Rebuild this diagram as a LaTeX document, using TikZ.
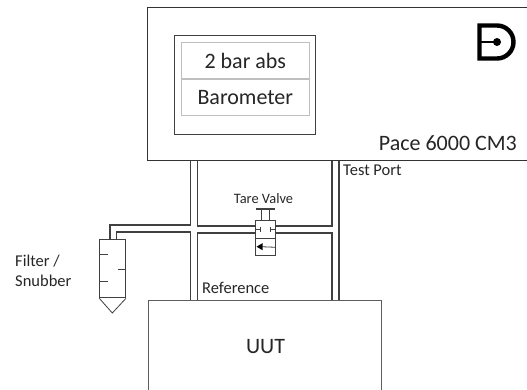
\documentclass[tikz,border=0pt]{standalone}
\usepackage{fontspec}
\setmainfont{Carlito}
\definecolor{txt}{HTML}{262626}
\definecolor{ln}{HTML}{404040}
\definecolor{gr}{HTML}{BFBFBF}
\begin{document}
\begin{tikzpicture}[x=1pt,y=-1pt,
  box/.style={draw=ln,line width=1.1pt,fill=white},
  pipe/.style={draw=ln,line width=1.2pt,line join=miter},
  thin part/.style={draw=ln,line width=0.8pt},
  cell/.style={draw=gr,line width=1pt,fill=white,minimum width=127.5pt,minimum height=36pt,inner sep=0pt,text=txt,font=\fontsize{22}{26}\selectfont},
  lab/.style={text=txt,inner sep=0pt,font=\fontsize{16.5}{20}\selectfont}]
\useasboundingbox (0,0) rectangle (527,389);
% pipes
\draw[pipe] (110,239) -- (110,225) -- (190.5,225) -- (190.5,159);
\draw[pipe] (116.7,239) -- (116.7,232) -- (190.5,232) -- (190.5,300);
\draw[pipe] (197.3,159) -- (197.3,226) -- (332,226) -- (332,159);
\draw[pipe] (197.3,300) -- (197.3,233) -- (332,233) -- (332,300);
\draw[pipe] (339,159) -- (339,300);
% main boxes
\node[box,draw=black!80,anchor=north west,minimum width=390pt,minimum height=153pt,inner sep=0pt] (pace) at (147,7) {};
\node[box,anchor=north west,minimum width=140.5pt,minimum height=98.5pt,inner sep=0pt] (screen) at (174,35) {};
\node[cell] (range) at (245.3,60.5) {2 bar abs};
\node[cell,anchor=north] (baro) at (range.south) {Barometer};
\node[box,draw=ln!85,anchor=north west,minimum width=233pt,minimum height=100pt,inner sep=0pt] (uut) at (148,300) {};
% logo
\draw[black,line width=4.4pt,line join=miter] (497,25.5) -- (479.5,25.5) -- (479.5,58.5) -- (497,58.5) arc[start angle=90,end angle=-90,radius=16.5] ;
\draw[black,line width=2.4pt] (479.5,42) -- (497,42);
\fill[black] (497,42) circle (4pt);
% valve
\node[draw=ln,line width=1pt,fill=white,anchor=north west,minimum width=20.3pt,minimum height=18.3pt,inner sep=0pt] (vtop) at (254.7,220) {};
\node[draw=ln,line width=1pt,fill=white,anchor=north west,minimum width=20.3pt,minimum height=17pt,inner sep=0pt] (vbot) at (254.7,238.3) {};
\coordinate (barL) at (255.7,209);
\coordinate (barR) at (275,209);
\draw[line width=1.2pt,ln] (barL) -- (barR);
\draw[thin part] (261.7,209) -- (261.7,220);
\draw[thin part] (269.3,209) -- (269.3,220);
\draw[thin part] (vtop.west) ++(0,0) -- ++(6,0) ++(0,-2.8) -- ++(0,5.6);
\draw[thin part] (vtop.east) ++(0,0) -- ++(-6,0) ++(0,-2.8) -- ++(0,5.6);
\draw[thin part] (vbot.east) -- (261,246.7);
\fill[black] (256.5,246.7) -- (262.5,243.2) -- (262.5,250.2) -- cycle;
% filter
\node[draw=ln,line width=1pt,fill=white,anchor=north west,minimum width=25.7pt,minimum height=58.6pt,inner sep=0pt] (filter) at (99.3,238.7) {};
\draw[thin part] (filter.south west) -- (112.3,313) -- (filter.south east);
\draw[thin part] (99.3,254) -- (107.5,254);
\draw[thin part] (117.5,269) -- (125,269);
\draw[thin part] (99.3,281) -- (107.5,281);
% labels
\node[lab,font=\fontsize{22}{26}\selectfont,anchor=east] (p) at (517,143) {Pace 6000 CM3};
\node[lab,anchor=west] (tp) at (343,170) {Test Port};
\node[lab,font=\fontsize{14.4}{17}\selectfont] (tv) at (263.5,199) {Tare Valve};
\node[lab,anchor=west] (ref) at (202,288) {Reference};
\node[lab,anchor=west,align=left] (fs) at (15,270.5) {Filter /\\Snubber};
\node[lab,font=\fontsize{22}{26}\selectfont] (u) at (265.5,346.5) {UUT};
\end{tikzpicture}
\end{document}
